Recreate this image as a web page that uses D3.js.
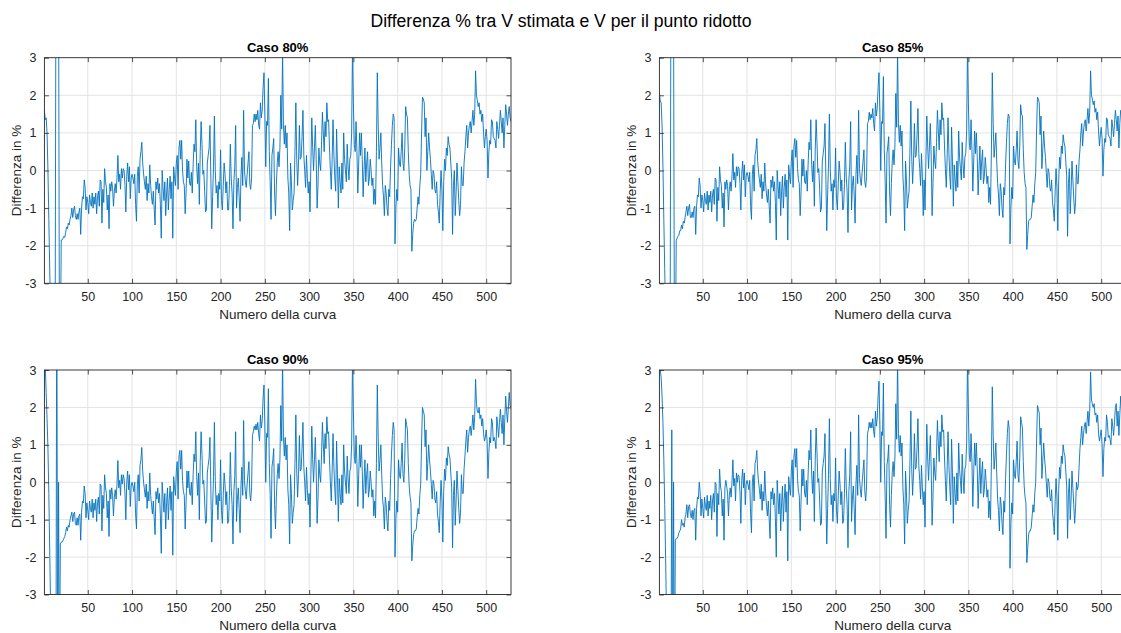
<!DOCTYPE html>
<html>
<head>
<meta charset="utf-8">
<script src="https://cdn.jsdelivr.net/npm/d3@7"></script>
<style>
  body { margin: 0; background: #fff; }
  svg { display: block; }
  text { font-family: "Liberation Sans", Arial, Helvetica, sans-serif; }
</style>
</head>
<body>
<svg id="fig" width="1121" height="633"></svg>
<script>
// Curve index runs 1..528
const curveCount = 528;
const xTicks = [50, 100, 150, 200, 250, 300, 350, 400, 450, 500];
const yTicks = [-3, -2, -1, 0, 1, 2, 3];
const mainTitle = "Differenza % tra V stimata e V per il punto ridotto";
const xLabel = "Numero della curva";
const yLabel = "Differenza in %";
const caseTitles = ["Caso 80%", "Caso 85%", "Caso 90%", "Caso 95%"];

// Percentage difference per curve, 80% case
const diff80 = [
1.6,1.35,1.4,1.0,0.0,-1.3,-2.6,-4.0,-5.5,-6,
-6,-6,-6,5,7,7,5,-5,-5,-1.85,
-1.85,-1.8,-1.75,-1.78,-1.65,-1.5,-1.55,-1.4,-1.45,-1.3,
-1.2,-1.0,-1.25,-1.05,-0.95,-1.2,-1.3,-1.15,-1.3,-1.1,
-1.0,-1.7,-1.0,-0.7,-0.75,-0.25,-0.45,-1.05,-0.7,-0.85,
-1.15,-0.65,-0.85,-0.95,-0.6,-1.0,-0.7,-0.9,-0.6,-1.15,
-0.7,-0.55,-0.95,-0.25,-0.3,-1.4,-0.5,-0.85,0.05,-0.3,
-0.45,-1.05,-0.65,-1.55,-0.35,-0.55,-0.3,-0.45,-0.95,-0.55,
-0.35,-0.6,-0.2,0.4,-0.3,-0.1,-0.5,0.05,-0.2,0.05,
0.0,-0.4,-1.1,-0.15,0.2,-0.3,0.1,-0.75,-0.2,-0.1,
-0.2,-0.35,-0.1,-0.9,-1.35,-0.15,0.1,-0.6,0.3,0.5,
0.75,0.2,-0.1,-0.3,-0.5,-0.15,-0.8,-0.35,-0.6,0.15,
-0.4,-0.7,-0.9,-0.55,-1.0,-1.45,-0.3,-0.5,-0.2,-0.6,
-0.35,-0.9,-1.8,0.0,-0.45,-0.8,-0.3,-1.2,-0.6,-0.2,
-1.05,-0.5,-0.15,-0.75,-0.3,-1.8,0.1,-0.2,-0.4,0.2,
0.4,-0.5,0.6,0.8,0.3,0.8,0.0,-0.3,-0.4,-1.15,
-0.6,0.3,-0.2,0.25,-0.35,-0.4,-0.05,-0.6,0.15,0.7,
0.5,1.35,0.1,-0.35,0.2,-0.9,0.5,1.3,0.7,-0.1,
0.0,-0.55,-1.1,-1.05,0.2,0.4,0.6,1.2,-0.2,-1.55,
-0.7,0.1,1.45,0.0,-0.6,-0.4,-1.0,-0.3,-0.5,0.55,
-0.8,-1.05,-0.4,0.2,-0.1,-0.6,-0.3,-1.05,-1.05,-0.4,
0.7,-0.2,-0.6,-1.55,-0.3,0.1,1.2,-1.0,-0.45,-0.2,
-0.7,-1.35,-0.15,0.35,-0.4,1.6,0.0,-0.3,-0.45,-0.1,
0.2,0.5,-0.35,-0.5,-0.2,1.2,1.25,1.5,1.3,1.5,
1.35,1.6,1.2,1.1,1.8,1.4,1.6,2.2,2.6,1.5,
0.1,1.3,1.2,2.45,0.5,-0.3,-1.3,0.4,0.6,0.85,
-0.6,-1.2,-0.4,0.2,0.5,0.1,0.6,2.0,1.1,3.2,
1.2,0.7,1.2,0.6,1.0,-0.2,-0.6,-1.6,0.2,-0.3,
-1.05,-0.8,-0.6,0.5,1.8,0.3,-0.4,0.2,1.2,0.3,
0.35,0.9,1.6,0.4,0.0,-0.45,0.4,-0.2,-0.6,-0.3,
-1.1,0.2,1.4,0.6,0.0,0.6,1.2,0.3,-1.0,-0.4,
0.6,0.2,0.0,0.7,1.55,1.0,0.5,1.3,0.9,1.8,
1.3,1.35,0.6,0.0,-0.5,0.3,1.35,0.4,-0.2,-0.55,
1.1,0.2,-1.0,0.1,-0.3,-0.6,0.2,-0.5,1.0,0.3,
0.0,-0.3,0.7,0.1,-0.25,0.3,0.4,1.0,3.3,1.8,
0.7,0.5,1.3,0.5,-0.6,0.2,1.0,0.4,1.0,0.3,
-0.7,0.0,0.6,-0.3,0.2,0.5,-0.4,-0.2,0.3,0.0,
-0.4,-0.2,-0.9,-0.5,-0.9,0.5,2.6,1.2,0.3,0.6,
1.0,0.2,-0.4,-0.7,-1.2,-0.4,-0.6,-1.0,-1.2,-0.5,
-0.7,0.1,0.7,1.2,1.5,1.4,-1.95,-1.0,-0.5,-0.8,
0.6,0.2,0.1,0.5,1.0,0.2,0.0,0.6,1.7,1.5,
1.4,0.5,-0.1,-0.4,-0.5,-2.15,-1.7,-1.4,-1.3,-1.35,
-1.3,-1.0,-0.7,-0.9,-0.4,-0.1,1.0,1.95,1.9,1.8,
0.9,1.4,0.0,0.5,1.0,0.6,0.3,-0.1,-0.5,0.0,
-0.1,-0.5,-0.6,-0.3,-0.9,-1.1,-1.4,-0.6,0.0,-0.5,
-1.6,-0.3,0.3,0.0,0.6,0.4,0.9,0.7,0.6,0.2,
-0.2,-1.7,-0.4,0.0,-1.2,-0.6,0.2,-0.3,-0.8,-1.2,
-0.9,0.1,-0.4,-0.4,0.2,0.5,0.9,1.2,0.6,1.0,
1.2,1.3,1.0,1.3,1.6,1.2,1.5,2.65,2.0,1.85,
1.7,1.8,1.5,1.6,1.3,1.5,1.0,0.6,0.9,1.1,
0.8,-0.2,0.5,0.8,0.7,1.35,1.3,0.9,0.85,0.8,
0.6,1.3,1.1,0.85,1.2,1.6,1.3,1.0,1.4,0.6,
1.2,1.75,1.5,1.2,1.5,1.7,1.4,1.3
];

// 85% case
const diff85 = [
2.05,1.85,1.8,1.2,0.1,-1.3,-2.6,-4.0,-5.5,-6,
-6,-6,-6,5,7,6,4,-5,-5,-1.85,
-1.8,-1.75,-1.72,-1.6,-1.6,-1.45,-1.55,-1.35,-1.4,-1.25,
-1.1,-0.95,-1.2,-1.0,-0.9,-1.25,-1.25,-1.1,-1.25,-1.0,
-0.95,-1.7,-0.95,-0.65,-0.7,-0.2,-0.4,-1.0,-0.65,-0.8,
-1.1,-0.6,-0.8,-0.9,-0.55,-1.05,-0.65,-0.85,-0.55,-1.1,
-0.65,-0.5,-0.9,-0.2,-0.25,-1.35,-0.45,-0.8,0.1,-0.25,
-0.4,-1.0,-0.6,-1.5,-0.3,-0.5,-0.25,-0.4,-1.05,-0.5,
-0.3,-0.55,-0.15,0.45,-0.25,-0.05,-0.45,0.1,-0.15,0.1,
0.05,-0.35,-1.05,-0.1,0.25,-0.25,0.15,-0.7,-0.15,-0.05,
-0.15,-0.3,-0.05,-0.95,-1.3,-0.1,0.15,-0.55,0.4,0.55,
0.85,0.25,-0.05,-0.25,-0.45,-0.1,-0.75,-0.3,-0.55,0.2,
-0.35,-0.65,-0.85,-0.5,-0.95,-1.4,-0.25,-0.45,-0.15,-0.55,
-0.3,-0.85,-1.85,0.0,-0.4,-0.75,-0.3,-1.2,-0.55,-0.15,
-1.0,-0.45,-0.1,-0.7,-0.25,-1.85,0.15,-0.15,-0.35,0.25,
0.55,-0.45,0.65,0.85,0.35,0.8,0.05,-0.25,-0.35,-1.2,
-0.55,0.3,-0.15,0.3,-0.3,-0.35,0.0,-0.55,0.2,0.75,
0.55,1.35,0.15,-0.3,0.25,-0.95,0.55,1.35,0.75,-0.05,
0.05,-0.5,-1.1,-1.0,0.25,0.45,0.65,1.25,-0.15,-1.6,
-0.65,0.15,1.5,0.05,-0.55,-0.35,-1.05,-0.25,-0.45,0.6,
-0.75,-1.05,-0.35,0.25,-0.05,-0.55,-0.25,-1.05,-1.0,-0.35,
0.75,-0.15,-0.55,-1.65,-0.25,0.15,1.3,-1.05,-0.4,-0.15,
-0.65,-1.4,-0.1,0.4,-0.35,1.6,0.05,-0.25,-0.4,-0.05,
0.25,0.55,-0.3,-0.45,-0.15,1.25,1.3,1.55,1.35,1.5,
1.4,1.65,1.25,1.05,1.8,1.45,1.65,2.2,2.6,1.55,
0.0,1.3,1.25,2.5,0.55,-0.3,-1.4,0.45,0.65,0.9,
-0.55,-1.2,-0.35,0.25,0.55,0.15,0.65,2.05,1.15,3.2,
1.25,0.75,1.2,0.65,1.05,-0.15,-0.6,-1.6,0.25,-0.25,
-1.0,-0.75,-0.55,0.55,1.85,0.35,-0.35,0.25,1.25,0.35,
0.4,0.95,1.65,0.45,0.05,-0.4,0.45,-0.15,-1.2,-0.25,
-1.05,0.25,1.45,0.65,0.05,0.65,1.25,0.35,-1.2,-0.35,
0.65,0.25,0.05,0.75,1.6,1.05,0.55,1.35,0.95,1.8,
1.35,1.4,0.65,0.05,-0.45,0.35,1.4,0.45,-0.15,-0.5,
1.15,0.25,-0.95,0.15,-0.25,-0.55,0.25,-0.45,1.05,0.35,
0.05,-0.25,0.75,0.15,-0.2,0.35,0.45,1.05,3.3,1.8,
0.75,0.55,1.35,0.55,-0.55,0.25,1.05,0.45,1.0,0.35,
-0.65,0.05,0.65,-0.25,0.25,0.55,-0.35,-0.15,0.35,0.05,
-0.35,-0.15,-0.85,-0.45,-0.9,0.55,2.6,1.25,0.35,0.65,
1.0,0.25,-0.35,-0.65,-1.2,-0.35,-0.55,-1.0,-1.25,-0.45,
-0.65,0.15,0.75,1.25,1.5,1.45,-1.95,-1.0,-0.45,-0.75,
0.65,0.25,0.15,0.55,1.05,0.25,0.05,0.65,1.75,1.5,
1.45,0.55,-0.05,-0.35,-0.45,-2.1,-1.7,-1.35,-1.3,-1.3,
-1.25,-0.95,-0.65,-0.85,-0.35,-0.05,1.05,1.95,1.9,1.8,
0.95,1.45,0.05,0.55,1.05,0.65,0.35,-0.05,-0.45,0.05,
-0.05,-0.45,-0.55,-0.25,-0.85,-1.05,-1.35,-0.55,0.05,-0.45,
-1.6,-0.25,0.35,0.05,0.65,0.45,0.95,0.75,0.65,0.25,
-0.15,-1.75,-0.35,0.05,-1.15,-0.55,0.25,-0.25,-0.75,-1.15,
-0.85,0.15,-0.35,-0.35,0.25,0.55,1.0,1.25,0.65,1.05,
1.25,1.35,1.05,1.35,1.65,1.25,1.55,2.65,2.0,1.9,
1.75,1.85,1.55,1.65,1.35,1.55,1.05,0.65,0.95,1.15,
0.85,-0.15,0.55,0.85,0.75,1.4,1.35,0.95,0.9,0.85,
0.65,1.35,1.15,0.9,1.25,1.6,1.35,1.05,1.45,0.6,
1.25,1.6,1.5,1.25,1.55,1.7,1.45,1.35
];

// 90% case
const diff90 = [
3.8,3.1,2.4,1.7,0.9,-0.3,-1.8,-3.3,-5,-6,
-6,-6,-6,-6,6,-6,0.0,-6,-1.65,-1.6,
-1.6,-1.55,-1.5,-1.45,-1.35,-1.2,-1.3,-1.15,-1.2,-1.0,
-0.9,-0.8,-1.05,-0.85,-0.8,-1.1,-1.15,-0.95,-1.15,-0.9,
-0.85,-1.55,-0.8,-0.5,-0.55,-0.1,-0.3,-0.95,-0.55,-0.75,
-1.0,-0.5,-0.7,-0.8,-0.45,-0.95,-0.55,-0.75,-0.45,-1.05,
-0.55,-0.4,-0.85,-0.05,-0.1,-1.3,-0.35,-0.7,0.2,-0.15,
-0.3,-0.95,-0.5,-1.45,-0.2,-0.45,-0.15,-0.35,-0.9,-0.4,
-0.2,-0.45,-0.05,0.58,-0.15,0.05,-0.35,0.2,-0.05,0.2,
0.1,-0.3,-1.0,0.0,0.3,-0.2,0.2,-0.65,-0.1,0.0,
-0.1,-0.25,0.0,-0.85,-1.25,-0.05,0.2,-0.5,0.45,0.6,
0.93,0.3,0.0,-0.2,-0.4,-0.05,-0.7,-0.25,-0.5,0.25,
-0.35,-0.6,-0.85,-0.5,-0.95,-1.4,-0.25,-0.45,-0.15,-0.55,
-0.3,-0.9,-1.9,0.0,-0.4,-0.8,-0.3,-1.25,-0.55,-0.15,
-1.0,-0.45,-0.1,-0.75,-0.25,-1.95,0.15,-0.15,-0.35,0.3,
0.55,-0.45,0.7,0.85,0.35,0.85,0.05,-0.25,-0.35,-1.25,
-0.55,0.3,-0.15,0.3,-0.3,-0.35,0.0,-0.6,0.2,0.75,
0.55,1.35,0.15,-0.35,0.25,-1.0,0.55,1.35,0.75,-0.05,
0.05,-0.5,-1.1,-1.05,0.25,0.45,0.65,1.2,-0.2,-1.6,
-0.7,0.15,1.6,0.05,-0.6,-0.35,-1.0,-0.3,-0.5,0.6,
-0.75,-1.1,-0.35,0.25,-0.05,-0.6,-0.25,-1.1,-1.05,-0.35,
0.8,-0.15,-0.6,-1.65,-0.25,0.15,1.35,-1.05,-0.45,-0.15,
-0.7,-1.35,-0.1,0.4,-0.35,1.65,0.05,-0.25,-0.45,-0.05,
0.25,0.55,-0.3,-0.5,-0.15,1.25,1.35,1.5,1.4,1.55,
1.4,1.6,1.3,1.1,1.8,1.45,1.65,2.25,2.6,1.5,
0.0,1.3,1.2,2.5,0.5,-0.35,-1.5,0.4,0.6,0.9,
-0.6,-1.25,-0.4,0.2,0.5,0.1,0.6,2.05,1.1,3.3,
1.2,0.7,1.2,0.6,1.0,-0.2,-0.6,-1.65,0.2,-0.3,
-1.1,-0.8,-0.6,0.5,1.8,0.3,-0.4,0.2,1.25,0.3,
0.35,0.9,1.6,0.4,0.0,-0.5,0.4,-0.2,-0.6,-0.3,
-1.2,0.2,1.5,0.6,0.0,0.6,1.2,0.3,-1.1,-0.45,
0.6,0.2,0.0,0.7,1.6,1.0,0.5,1.3,0.9,1.75,
1.3,1.35,0.6,0.0,-0.5,0.3,1.3,0.4,-0.2,-0.6,
1.1,0.2,-1.05,0.1,-0.3,-0.6,0.2,-0.55,1.0,0.3,
0.0,-0.3,0.7,0.1,-0.3,0.3,0.4,1.0,3.3,1.9,
0.7,0.5,1.25,0.5,-0.65,0.2,1.0,0.4,1.0,0.3,
-0.7,0.0,0.6,-0.3,0.2,0.5,-0.4,-0.2,0.3,0.0,
-0.4,-0.2,-0.9,-0.5,-0.95,0.5,2.6,1.2,0.3,0.6,
1.0,0.2,-0.45,-0.7,-1.25,-0.4,-0.6,-1.05,-1.3,-0.5,
-0.75,0.1,0.75,1.25,1.6,1.4,-2.0,-1.0,-0.5,-0.8,
0.6,0.2,0.1,0.5,1.05,0.2,0.0,0.6,1.7,1.55,
1.4,0.5,-0.1,-0.4,-0.55,-2.1,-1.7,-1.4,-1.3,-1.3,
-1.25,-0.95,-0.7,-0.85,-0.35,-0.05,1.05,2.0,1.9,1.8,
0.95,1.4,0.05,0.5,1.0,0.6,0.3,-0.05,-0.45,0.05,
-0.05,-0.45,-0.55,-0.25,-0.85,-1.05,-1.35,-0.55,0.05,-0.45,
-1.6,-0.25,0.35,0.05,0.65,0.45,0.95,0.75,0.65,0.25,
-0.15,-1.75,-0.35,0.05,-1.15,-0.5,0.3,-0.2,-0.7,-1.1,
-0.8,0.2,-0.3,-0.3,0.35,0.7,1.1,1.4,0.8,1.2,
1.4,1.5,1.25,1.5,1.8,1.4,1.75,2.75,2.1,1.9,
1.85,2.0,1.7,1.8,1.5,1.7,1.3,1.1,1.2,1.4,
1.1,0.1,0.8,1.2,1.05,1.7,1.6,1.1,1.2,1.1,
0.9,1.75,1.5,1.2,1.6,1.95,1.6,1.3,1.8,1.0,
1.7,2.3,1.9,1.6,2.0,2.4,2.05,2.0
];

// 95% case
const diff95 = [
3.2,3.0,2.8,2.3,1.6,0.6,-0.6,-2.0,-3.5,-5,
-6,-6,-6,-6,1.4,-6,0.0,-6,-1.55,-1.5,
-1.5,-1.45,-1.35,-1.3,-1.25,-1.0,-1.15,-1.1,-1.2,-0.95,
-0.85,-0.6,-0.95,-0.65,-0.6,-0.85,-0.95,-0.75,-1.0,-0.75,
-0.7,-1.55,-0.7,-0.4,-0.45,0.0,-0.25,-0.9,-0.45,-0.7,
-0.95,-0.4,-0.65,-0.75,-0.35,-0.9,-0.5,-0.7,-0.35,-1.0,
-0.5,-0.3,-0.8,0.0,-0.05,-1.45,-0.3,-0.6,0.35,-0.1,
-0.25,-0.9,-0.45,-1.55,-0.15,0.05,-0.1,-0.3,-0.9,-0.35,
-0.15,-0.4,0.0,0.6,-0.1,0.1,-0.5,0.25,0.0,0.2,
0.15,-0.25,-1.1,0.05,0.35,-0.15,0.25,-0.6,-0.05,0.05,
-0.05,-0.2,0.05,-0.85,-1.35,0.0,0.2,-0.5,0.5,0.6,
0.85,0.3,0.0,-0.2,-0.45,-0.05,-0.75,-0.25,-0.5,0.3,
-0.3,-0.65,-0.9,-0.5,-1.0,-1.5,-0.25,-0.45,-0.15,-0.6,
-0.3,-0.95,-2.0,0.05,-0.4,-0.85,-0.3,-1.3,-0.55,-0.1,
-1.05,-0.45,-0.05,-0.8,-0.25,-2.1,0.15,-0.15,-0.35,0.3,
0.6,-0.4,0.7,0.9,0.4,0.9,0.1,-0.25,-0.35,-1.3,
-0.5,0.35,-0.1,0.35,-0.3,-0.4,0.05,-0.6,0.25,0.85,
0.6,1.4,0.2,-0.3,0.3,-1.05,0.6,1.45,0.8,0.0,
0.1,-0.5,-1.15,-1.1,0.3,0.5,0.7,1.3,-0.2,-1.65,
-0.7,0.2,1.7,0.1,-0.6,-0.35,-1.05,-0.3,-0.5,0.65,
-0.75,-1.1,-0.35,0.3,-0.05,-0.6,-0.25,-1.1,-1.05,-0.3,
0.9,-0.1,-0.6,-1.75,-0.25,0.2,1.35,-1.05,-0.45,-0.1,
-0.7,-1.4,-0.05,0.45,-0.35,1.8,0.1,-0.2,-0.4,0.0,
0.3,0.6,-0.25,-0.5,-0.1,1.3,1.4,1.6,1.45,1.6,
1.45,1.7,1.35,1.2,1.9,1.5,1.7,2.3,2.7,1.55,
0.0,1.35,1.25,2.65,0.55,-0.4,-1.5,0.45,0.65,1.0,
-0.6,-1.2,-0.35,0.25,0.55,0.15,0.65,2.1,1.15,3.3,
1.3,0.8,1.25,0.7,1.05,-0.15,-0.6,-1.65,0.3,-0.25,
-1.1,-0.75,-0.5,0.55,1.9,0.35,-0.35,0.25,1.3,0.35,
0.4,0.95,1.7,0.45,0.05,-0.45,0.45,-0.15,-0.6,-0.25,
-1.2,0.25,1.55,0.65,0.05,0.65,1.25,0.35,-1.15,-0.4,
0.65,0.25,0.05,0.75,1.65,1.05,0.55,1.35,0.95,1.8,
1.35,1.4,0.65,0.05,-0.5,0.35,1.35,0.45,-0.15,-0.6,
1.15,0.25,-1.1,0.15,-0.3,-0.6,0.25,-0.5,1.05,0.35,
0.05,-0.3,0.75,0.15,-0.3,0.35,0.45,1.05,3.3,1.9,
0.75,0.55,1.3,0.55,-0.65,0.25,1.05,0.45,1.05,0.35,
-0.7,0.05,0.65,-0.3,0.25,0.55,-0.4,-0.2,0.35,0.05,
-0.4,-0.2,-0.95,-0.5,-1.0,0.55,2.55,1.25,0.35,0.65,
1.05,0.25,-0.45,-0.75,-1.3,-0.4,-0.6,-1.1,-1.4,-0.5,
-0.8,0.1,0.75,1.3,1.65,1.45,-2.3,-1.1,-0.55,-0.85,
0.6,0.2,0.1,0.55,1.1,0.2,0.0,0.65,1.75,1.6,
1.45,0.55,-0.1,-0.4,-0.55,-2.15,-1.75,-1.4,-1.3,-1.3,
-1.2,-0.9,-0.6,-0.8,-0.3,0.0,1.1,2.05,1.95,1.85,
1.0,1.45,0.1,0.55,1.05,0.65,0.35,0.0,-0.4,0.1,
0.0,-0.4,-0.5,-0.2,-0.8,-1.05,-1.4,-0.5,0.1,-0.4,
-1.55,-0.2,0.4,0.1,0.7,0.5,1.0,0.8,0.7,0.3,
-0.1,-1.5,-0.3,0.1,-1.0,-0.45,0.3,-0.15,-0.6,-1.1,
-0.7,0.0,-0.2,-0.1,0.4,0.9,1.2,1.5,1.0,1.3,
1.5,1.6,1.3,1.6,1.9,1.5,1.9,2.95,2.2,2.1,
2.0,2.1,1.8,1.85,1.6,1.8,1.3,1.1,1.25,1.4,
1.0,0.15,0.9,1.2,1.1,1.8,1.6,1.2,1.25,1.15,
1.0,1.7,1.5,1.25,1.6,2.0,2.1,1.5,1.9,1.25,
1.8,2.3,1.9,1.7,2.0,2.3,2.0,1.9
];

const seriesList = [diff80, diff85, diff90, diff95];

// Layout of the 2x2 grid of axes (the right column runs past the page edge)
const colX = [[44.4, 511], [659.4, 1126]];
const rowY = [[57.7, 283.3], [370, 594.5]];

const svg = d3.select("#fig");
svg.append("rect").attr("width", 1121).attr("height", 633).attr("fill", "#fff");

svg.append("text")
  .attr("x", 561).attr("y", 26.5)
  .attr("text-anchor", "middle")
  .attr("font-size", 17.6)
  .attr("fill", "#000")
  .text(mainTitle);

const lineColor = "#0072BD";
const axisColor = "#262626";
const gridColor = "#e3e3e3";
const tickLen = 4.5;
const plainNumber = d => String(d);   // hyphen-minus, integer labels

seriesList.forEach((values, i) => {
  const [x0, x1] = colX[i % 2];
  const [y0, y1] = rowY[Math.floor(i / 2)];
  const x = d3.scaleLinear().domain([1, curveCount]).range([x0, x1]);
  const y = d3.scaleLinear().domain([-3, 3]).range([y1, y0]);

  const g = svg.append("g");
  const clipId = "clip" + i;
  g.append("clipPath").attr("id", clipId)
    .append("rect").attr("x", x0).attr("y", y0).attr("width", x1 - x0).attr("height", y1 - y0);

  // grid
  g.append("g").selectAll("line").data(xTicks).join("line")
    .attr("x1", d => x(d)).attr("x2", d => x(d)).attr("y1", y0).attr("y2", y1)
    .attr("stroke", gridColor).attr("stroke-width", 1);
  g.append("g").selectAll("line").data(yTicks.slice(1, -1)).join("line")
    .attr("x1", x0).attr("x2", x1).attr("y1", d => y(d)).attr("y2", d => y(d))
    .attr("stroke", gridColor).attr("stroke-width", 1);

  // data line
  const line = d3.line().x((d, k) => x(k + 1)).y(d => y(d));
  g.append("path")
    .datum(values)
    .attr("clip-path", `url(#${clipId})`)
    .attr("d", line)
    .attr("fill", "none")
    .attr("stroke", lineColor)
    .attr("stroke-width", 0.9)
    .attr("stroke-linejoin", "round");

  // axes: ticks point inward, labels outside
  const bottom = d3.axisBottom(x).tickValues(xTicks).tickSizeInner(-tickLen).tickSizeOuter(0).tickPadding(9).tickFormat(plainNumber);
  const top = d3.axisTop(x).tickValues(xTicks).tickSizeInner(-tickLen).tickSizeOuter(0).tickFormat("");
  const left = d3.axisLeft(y).tickValues(yTicks).tickSizeInner(-tickLen).tickSizeOuter(0).tickPadding(8).tickFormat(plainNumber);
  const right = d3.axisRight(y).tickValues(yTicks).tickSizeInner(-tickLen).tickSizeOuter(0).tickFormat("");

  const styleAxis = sel => {
    sel.select(".domain").remove();
    sel.selectAll(".tick line").attr("stroke", axisColor).attr("stroke-width", 0.8);
    sel.selectAll(".tick text").attr("fill", axisColor).attr("font-size", 12.5)
      .attr("font-family", '"Liberation Sans", Arial, Helvetica, sans-serif');
  };
  g.append("g").attr("transform", `translate(0,${y1})`).call(bottom).call(styleAxis);
  g.append("g").attr("transform", `translate(0,${y0})`).call(top).call(styleAxis);
  g.append("g").attr("transform", `translate(${x0},0)`).call(left).call(styleAxis);
  g.append("g").attr("transform", `translate(${x1},0)`).call(right).call(styleAxis);

  // box
  g.append("rect")
    .attr("x", x0).attr("y", y0).attr("width", x1 - x0).attr("height", y1 - y0)
    .attr("fill", "none").attr("stroke", axisColor).attr("stroke-width", 0.9);

  // titles and labels
  g.append("text")
    .attr("x", (x0 + x1) / 2).attr("y", y0 - 6)
    .attr("text-anchor", "middle").attr("font-size", 13).attr("font-weight", "bold")
    .attr("fill", "#000").text(caseTitles[i]);
  g.append("text")
    .attr("x", (x0 + x1) / 2).attr("y", y1 + 35.5)
    .attr("text-anchor", "middle").attr("font-size", 13.5)
    .attr("fill", axisColor).text(xLabel);
  g.append("text")
    .attr("transform", `translate(${x0 - 23},${(y0 + y1) / 2}) rotate(-90)`)
    .attr("text-anchor", "middle").attr("font-size", 13.5)
    .attr("fill", axisColor).text(yLabel);
});
</script>
</body>
</html>
